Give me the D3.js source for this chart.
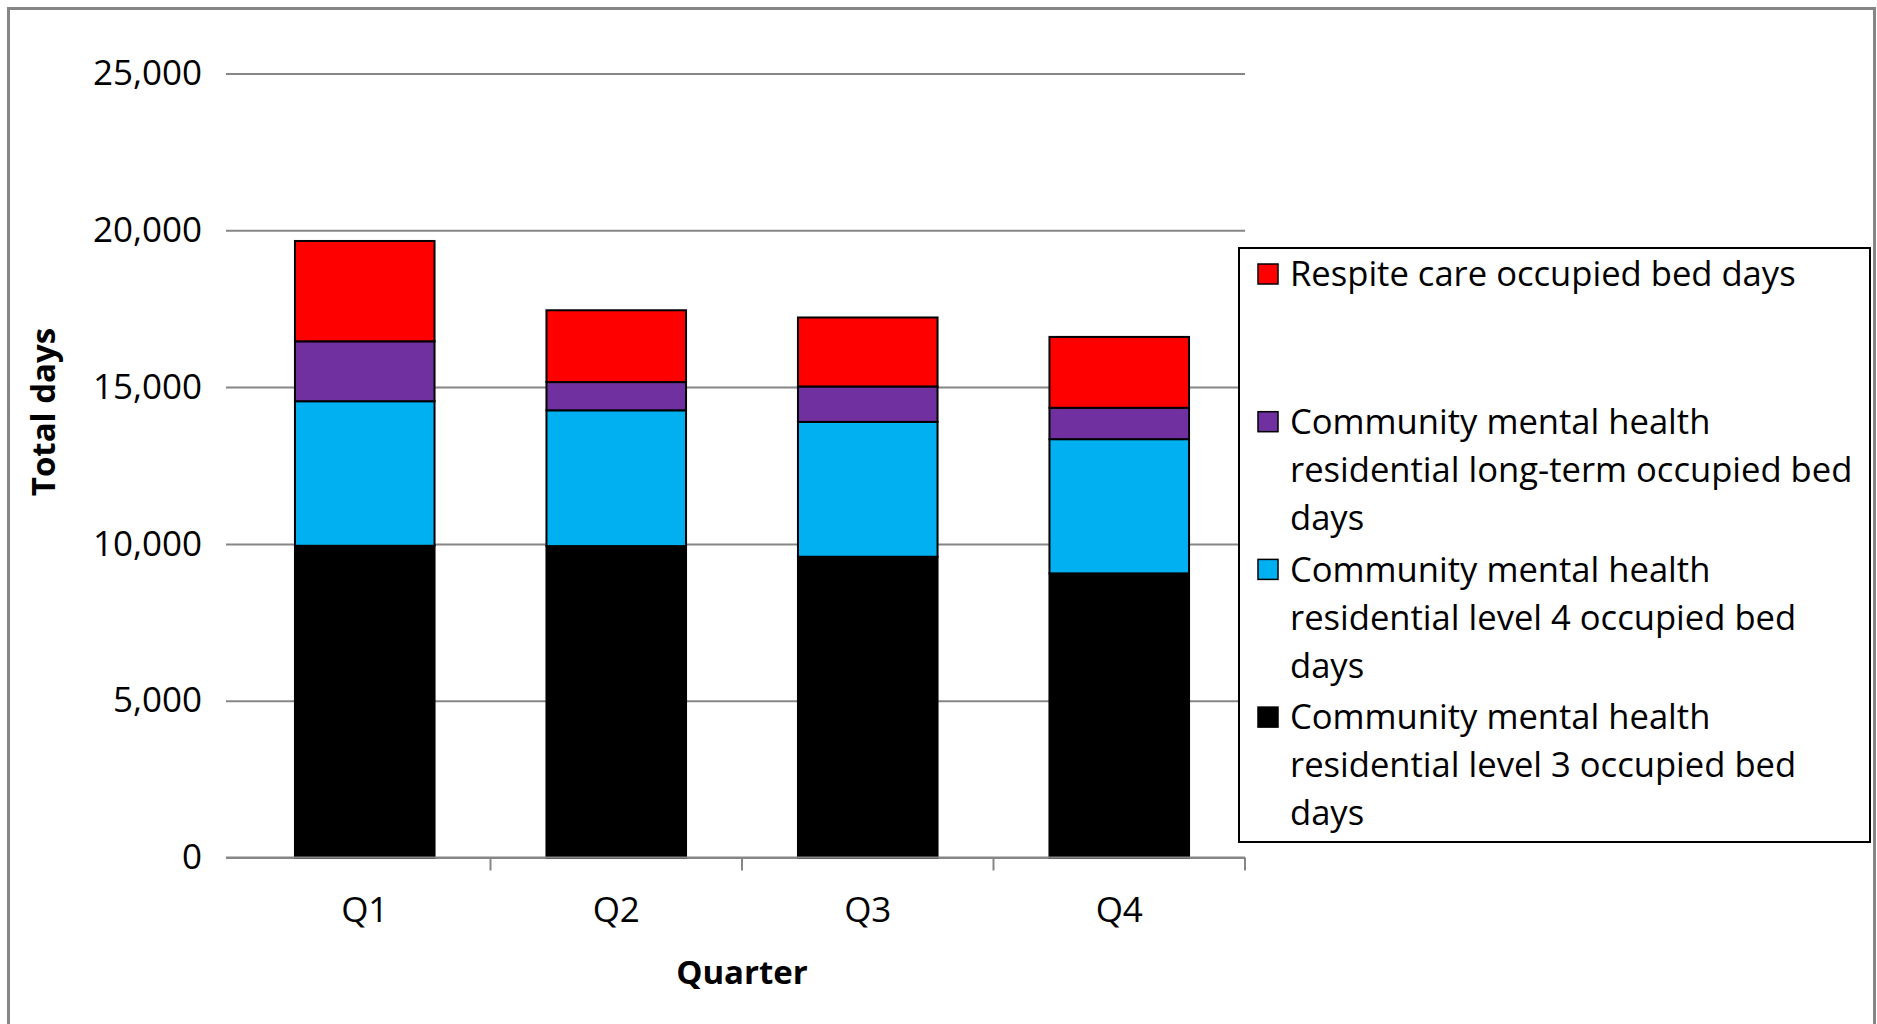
<!DOCTYPE html>
<html>
<head>
<meta charset="utf-8">
<script src="https://cdn.jsdelivr.net/npm/d3@7/dist/d3.min.js"></script>
<style>
  html, body { margin: 0; padding: 0; background: #fff; }
  svg { display: block; }
  text { font-family: "Open Sans", "Liberation Sans", sans-serif; fill: #000; }
</style>
</head>
<body>
<svg id="chart" width="1877" height="1024"></svg>
<script>
// Occupied bed days per quarter, stacked by service type
const quarters = ["Q1", "Q2", "Q3", "Q4"];
const level3 = [9940, 9930, 9590, 9060];
const level4 = [4610, 4330, 4300, 4280];
const longTerm = [1910, 900, 1130, 1000];
const respite = [3200, 2290, 2200, 2260];
const yTicks = [0, 5000, 10000, 15000, 20000, 25000];

// bottom-to-top stacking order
const seriesKeys = ["level3", "level4", "longTerm", "respite"];
const seriesColors = { level3: "#000000", level4: "#00B0F0", longTerm: "#7030A0", respite: "#FF0000" };
const seriesLabels = {
  respite: ["Respite care occupied bed days"],
  longTerm: ["Community mental health", "residential long-term occupied bed", "days"],
  level4: ["Community mental health", "residential level 4 occupied bed", "days"],
  level3: ["Community mental health", "residential level 3 occupied bed", "days"]
};
const legendOrder = ["respite", "longTerm", "level4", "level3"];

const rows = quarters.map((q, i) => ({
  quarter: q, level3: level3[i], level4: level4[i], longTerm: longTerm[i], respite: respite[i]
}));

const svg = d3.select("#chart");
const FS = 35;

// outer chart frame
svg.append("rect")
  .attr("x", 8.5).attr("y", 8.5)
  .attr("width", 1866).attr("height", 1030)
  .attr("fill", "none").attr("stroke", "#868686").attr("stroke-width", 3);

const gridLeft = 226, plotLeft = 239, plotRight = 1245;
const yTop = 73.5, yBottom = 857.5;

const x = d3.scaleBand().domain(quarters).range([plotLeft, plotRight])
  .paddingInner(0.445).paddingOuter(0.2225);
const y = d3.scaleLinear().domain([0, 25000]).range([yBottom, yTop]);

// value axis with gridlines
const yAxis = svg.append("g")
  .attr("transform", `translate(${plotRight},0)`)
  .call(d3.axisLeft(y).tickValues(yTicks).tickFormat(d3.format(","))
    .tickSize(plotRight - gridLeft).tickPadding(24));
yAxis.select(".domain").remove();
yAxis.selectAll(".tick line").attr("stroke", "#868686").attr("stroke-width", 2);
yAxis.selectAll(".tick text").style("font-size", FS + "px").attr("fill", "#000");

// stacked bars
const stacked = d3.stack().keys(seriesKeys)(rows);
svg.append("g").selectAll("g")
  .data(stacked).join("g")
  .attr("fill", d => seriesColors[d.key])
  .selectAll("rect")
  .data(d => d).join("rect")
  .attr("x", d => x(d.data.quarter))
  .attr("width", x.bandwidth())
  .attr("y", d => y(d[1]))
  .attr("height", d => y(d[0]) - y(d[1]))
  .attr("stroke", "#000").attr("stroke-width", 2);

// category axis
const xAxis = svg.append("g")
  .attr("transform", `translate(0,${yBottom})`)
  .call(d3.axisBottom(x).tickSize(0).tickPadding(40));
xAxis.select(".domain").remove();
xAxis.selectAll(".tick text").style("font-size", FS + "px").attr("fill", "#000");

svg.append("line")
  .attr("x1", gridLeft).attr("x2", plotRight)
  .attr("y1", yBottom).attr("y2", yBottom)
  .attr("stroke", "#868686").attr("stroke-width", 2);

// tick marks at the right edge of each category slot
const slotRight = d => x(d) - x.step() * x.paddingInner() / 2 + x.step();
svg.append("g").selectAll("line")
  .data(quarters).join("line")
  .attr("x1", slotRight).attr("x2", slotRight)
  .attr("y1", yBottom).attr("y2", yBottom + 13)
  .attr("stroke", "#868686").attr("stroke-width", 2);

// axis titles
svg.append("text")
  .attr("x", (plotLeft + plotRight) / 2).attr("y", 972).attr("dy", "0.35em")
  .attr("text-anchor", "middle")
  .style("font-size", "33px").style("font-weight", "bold")
  .text("Quarter");

svg.append("text")
  .attr("transform", "translate(43,412) rotate(-90)")
  .attr("dy", "0.35em")
  .attr("text-anchor", "middle")
  .style("font-size", "33px").style("font-weight", "bold")
  .text("Total days");

// legend
const legend = svg.append("g");
legend.append("rect")
  .attr("x", 1239).attr("y", 248)
  .attr("width", 631).attr("height", 594)
  .attr("fill", "#fff").attr("stroke", "#000").attr("stroke-width", 2);

const itemStart = 274, itemGap = 147.7, lineGap = 48;
const items = legend.selectAll("g.item")
  .data(legendOrder).join("g").attr("class", "item")
  .attr("transform", (d, i) => `translate(0,${itemStart + i * itemGap})`);
items.append("rect")
  .attr("x", 1258).attr("y", -10).attr("width", 20).attr("height", 20)
  .attr("fill", d => seriesColors[d]).attr("stroke", "#000").attr("stroke-width", 1.5);
items.selectAll("text")
  .data(d => seriesLabels[d]).join("text")
  .attr("x", 1290).attr("y", (d, i) => i * lineGap).attr("dy", "0.35em")
  .style("font-size", "34.6px")
  .text(d => d);
</script>
</body>
</html>
